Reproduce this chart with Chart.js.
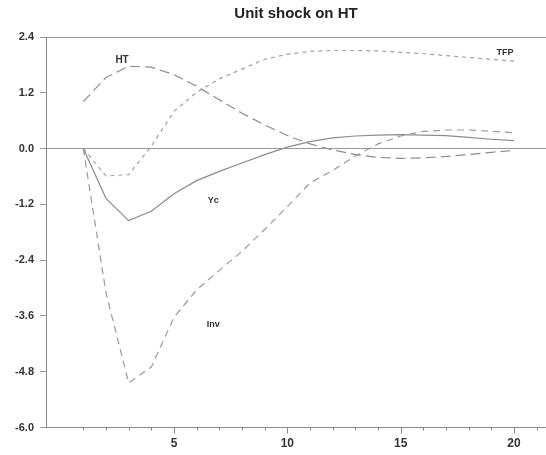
<!DOCTYPE html>
<html>
<head>
<meta charset="utf-8">
<title>Unit shock on HT</title>
<script src="https://cdn.jsdelivr.net/npm/chart.js@4.4.1/dist/chart.umd.min.js"></script>
<style>
	body { margin: 0; background: #fff; }
</style>
</head>
<body>
<canvas id="myChart" width="546" height="455"></canvas>
<script>
// periods after the shock
const periods = [1, 2, 3, 4, 5, 6, 7, 8, 9, 10, 11, 12, 13, 14, 15, 16, 17, 18, 19, 20]

// impulse responses
const ht  = [1.01, 1.53, 1.77, 1.75, 1.59, 1.34, 1.05, 0.76, 0.51, 0.28, 0.10, -0.03, -0.13, -0.19, -0.21, -0.20, -0.17, -0.13, -0.08, -0.04]
const tfp = [0.00, -0.59, -0.56, 0.05, 0.80, 1.21, 1.50, 1.71, 1.92, 2.03, 2.09, 2.11, 2.11, 2.10, 2.07, 2.04, 2.00, 1.96, 1.92, 1.88]
const yc  = [0.00, -1.07, -1.55, -1.35, -0.97, -0.69, -0.49, -0.31, -0.13, 0.03, 0.15, 0.23, 0.27, 0.29, 0.30, 0.29, 0.28, 0.24, 0.20, 0.17]
const inv = [0.00, -3.10, -5.04, -4.70, -3.63, -3.04, -2.62, -2.21, -1.74, -1.25, -0.74, -0.47, -0.16, 0.10, 0.27, 0.37, 0.40, 0.40, 0.37, 0.34]

// axis ticks
const yTicks = [2.4, 1.2, 0.0, -1.2, -2.4, -3.6, -4.8, -6.0]
const xTickMarks = [1, 2, 3, 4, 5, 6, 7, 8, 9, 10, 11, 12, 13, 14, 15, 16, 17, 18, 19, 20, 21]
const xLabels = [5, 10, 15, 20]

const seriesNames = ['HT', 'TFP', 'Yc', 'Inv']

function pts(arr){
	return periods.map((p, i) => ({x: p, y: arr[i]}))
}

// text labels next to the curves (in data units)
const curveTags = [
	{text: 'HT',  x: 2.71, y: 1.89, size: 10},
	{text: 'TFP', x: 19.6, y: 2.06, size: 9},
	{text: 'Yc',  x: 6.73, y: -1.12, size: 9},
	{text: 'Inv', x: 6.73, y: -3.78, size: 9},
]

const tagPlugin = {
	id: 'tags',
	afterDatasetsDraw(chart){
		const c = chart.ctx
		const xs = chart.scales.x, ys = chart.scales.y
		c.save()
		c.fillStyle = '#333'
		c.textAlign = 'center'
		c.textBaseline = 'middle'
		curveTags.forEach(t => {
			c.font = 'bold ' + t.size + 'px "Liberation Sans", Arial, sans-serif'
			c.fillText(t.text, xs.getPixelForValue(t.x), ys.getPixelForValue(t.y))
		})
		// x tick marks, longer at the labelled ones
		c.strokeStyle = '#888'
		c.lineWidth = 1
		const b = chart.chartArea.bottom
		xTickMarks.forEach(v => {
			const px = Math.round(xs.getPixelForValue(v)) + 0.5
			const len = xLabels.includes(v) ? 6 : 3
			c.beginPath()
			c.moveTo(px, b)
			c.lineTo(px, b + len)
			c.stroke()
		})
		c.restore()
	}
}

const lineStyle = {
	borderWidth: 1.2,
	pointRadius: 0,
	tension: 0,
	fill: false,
}

const ctx = document.getElementById('myChart').getContext('2d')
const myChart = new Chart(ctx, {
	type: 'line',
	data: {
		datasets: [
			{label: seriesNames[0], data: pts(ht),  borderColor: '#8c8c8c', borderDash: [10, 5], ...lineStyle},
			{label: seriesNames[1], data: pts(tfp), borderColor: '#a0a0a0', borderDash: [4, 4], ...lineStyle},
			{label: seriesNames[2], data: pts(yc),  borderColor: '#8c8c8c', ...lineStyle},
			{label: seriesNames[3], data: pts(inv), borderColor: '#9a9a9a', borderDash: [7, 5], ...lineStyle},
		]
	},
	options: {
		responsive: false,
		animation: false,
		devicePixelRatio: 1,
		layout: { padding: {left: 0, right: 0, top: 0, bottom: 0} },
		plugins: {
			legend: { display: false },
			tooltip: { enabled: false },
			title: {
				display: true,
				fullSize: false,
				text: 'Unit shock on HT',
				color: '#222',
				font: { size: 15, weight: 'bold', family: '"Liberation Sans", Arial, sans-serif' },
				padding: { top: 5, bottom: 14 },
			},
		},
		scales: {
			x: {
				type: 'linear',
				min: -0.645,
				max: 21.41,
				afterBuildTicks: s => { s.ticks = xTickMarks.map(v => ({value: v})) },
				afterFit: s => { s.height = 27.5 },
				border: { color: '#888', width: 1 },
				grid: { drawOnChartArea: false, drawTicks: false },
				ticks: {
					autoSkip: false,
					maxRotation: 0,
					padding: 9,
					color: '#333',
					font: { size: 12, weight: 'bold', family: '"Liberation Sans", Arial, sans-serif' },
					callback: v => xLabels.includes(v) ? String(v) : '',
				},
			},
			y: {
				min: -6.0,
				max: 2.4,
				afterBuildTicks: s => { s.ticks = yTicks.map(v => ({value: v})) },
				afterFit: s => { s.width = 46 },
				border: { color: '#888', width: 1 },
				grid: {
					color: c => (c.tick && (c.tick.value === 0 || c.tick.value === 2.4)) ? '#999' : 'rgba(0,0,0,0)',
					tickColor: '#999',
					tickLength: 6,
				},
				ticks: {
					padding: 6,
					color: '#333',
					font: { size: 11, weight: 'bold', family: '"Liberation Sans", Arial, sans-serif' },
					callback: v => v.toFixed(1),
				},
			},
		},
	},
	plugins: [tagPlugin]
})
</script>
</body>
</html>
